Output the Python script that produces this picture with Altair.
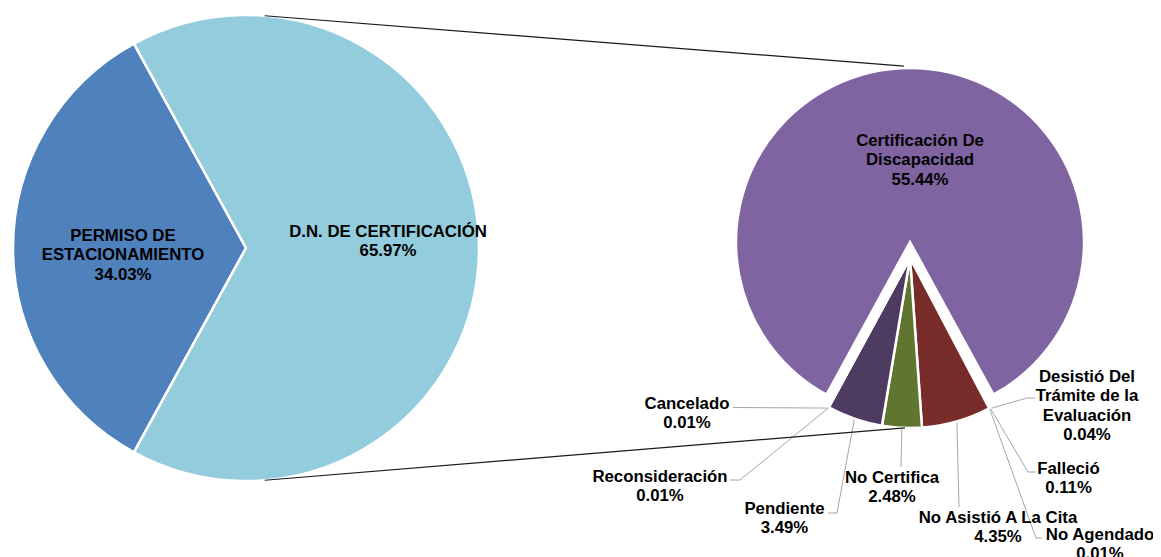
import math
import altair as alt
import pandas as pd

# ---------------- data ----------------
main_labels = ["PERMISO DE ESTACIONAMIENTO", "D.N. DE CERTIFICACIÓN"]
main_text = ["PERMISO DE\nESTACIONAMIENTO", "D.N. DE CERTIFICACIÓN"]
main_values = [34.03, 65.97]
main_colors = ["#4F81BD", "#93CDDD"]

sub_labels = ["Desistió Del Trámite de la Evaluación", "Falleció", "No Agendado",
              "No Asistió A La Cita", "No Certifica", "Pendiente",
              "Reconsideración", "Cancelado", "Certificación De Discapacidad"]
sub_text = ["Desistió Del\nTrámite de la\nEvaluación", "Falleció", "No Agendado",
            "No Asistió A La Cita", "No Certifica", "Pendiente",
            "Reconsideración", "Cancelado", "Certificación De\nDiscapacidad"]
sub_values = [0.04, 0.11, 0.01, 4.35, 2.48, 3.49, 0.01, 0.01, 55.44]
sub_colors = ["#C0504D", "#9BBB59", "#4BACC6", "#772C2A", "#5F7530",
              "#4D3B62", "#F79646", "#2C4D75", "#8064A2"]

# ---------------- layout (page pixels) ----------------
OFF = 8
L_CX, L_CY, L_R = 246, 248, 233          # left pie
P_CX, P_CY, P_R = 910, 242, 174          # big slice of right pie
S_CX, S_CY, S_R = 910, 258, 170          # exploded small slices
FS = 16.8
LH = 19.5

main_label_pos = [(123, 235), (388, 231)]
sub_label_pos = [(1087, 376), (1068.5, 468), (1100, 534), (998, 517), (892, 477),
                 (784.5, 508), (660, 476), (687, 403), (920, 140)]
leader_pts = [
    [(1027, 398), (1035, 398)],
    [(1028, 472), (1036, 472)],
    [(1036, 538), (1042, 538)],
    [(959, 507)],
    [(901, 467)],
    [(837, 513), (828, 513)],
    [(740, 480), (730, 480)],
    [(733, 407.5)],
    [],
]
CONN_LEFT_ANG = (4.6, 175.4)
CONN_RIGHT = ((P_CX, P_CY, P_R + 2, 358.0), (S_CX, S_CY, S_R, 181.7))


def pt(cx, cy, r, deg):
    a = math.radians(deg)
    return cx + r * math.sin(a), cy - r * math.cos(a)


# ---------------- arcs ----------------
arcs = []
tot = sum(main_values)
a = 270 - 0.5 * main_values[0] / tot * 360
for lab, v in zip(main_labels, main_values):
    d = v / tot * 360
    arcs.append(dict(name=lab, cx=L_CX - OFF, cy=L_CY - OFF, r=L_R,
                     t0=math.radians(a), t1=math.radians(a + d)))
    a += d

tot2 = sum(sub_values)
small_sum = sum(sub_values[:-1])
span = small_sum / tot2 * 360
a = 180 - span / 2
mids = []
for lab, v in zip(sub_labels[:-1], sub_values[:-1]):
    d = v / tot2 * 360
    arcs.append(dict(name=lab, cx=S_CX - OFF, cy=S_CY - OFF, r=S_R,
                     t0=math.radians(a), t1=math.radians(a + d)))
    mids.append(a + d / 2)
    a += d
arcs.append(dict(name=sub_labels[-1], cx=P_CX - OFF, cy=P_CY - OFF, r=P_R,
                 t0=math.radians(a), t1=math.radians(180 - span / 2 + 360)))
arc_df = pd.DataFrame(arcs)

# ---------------- labels ----------------
texts = []
for t, v, (x, y) in zip(main_text, main_values, main_label_pos):
    texts.append(dict(txt=f"{t}\n{v:.2f}%", x=x - OFF, y=y - OFF - 0.432 * FS))
for t, v, (x, y) in zip(sub_text, sub_values, sub_label_pos):
    texts.append(dict(txt=f"{t}\n{v:.2f}%", x=x - OFF, y=y - OFF - 0.432 * FS))
text_df = pd.DataFrame(texts)

# ---------------- leader lines ----------------
segs = []
for mid, pts in zip(mids, leader_pts[:-1]):
    chain = [pt(S_CX, S_CY, S_R + 1, mid)] + list(pts)
    for (x1, y1), (x2, y2) in zip(chain[:-1], chain[1:]):
        segs.append(dict(x=x1 - OFF, y=y1 - OFF, x2=x2 - OFF, y2=y2 - OFF))
lead_df = pd.DataFrame(segs)

conn = []
for la, (cx, cy, r, deg) in zip(CONN_LEFT_ANG, CONN_RIGHT):
    x1, y1 = pt(L_CX, L_CY, L_R, la)
    x2, y2 = pt(cx, cy, r, deg)
    conn.append(dict(x=x1 - OFF, y=y1 - OFF, x2=x2 - OFF, y2=y2 - OFF))
conn_df = pd.DataFrame(conn)

# ---------------- chart ----------------
color_scale = alt.Scale(domain=main_labels + sub_labels, range=main_colors + sub_colors)

arc_layer = alt.Chart(arc_df).mark_arc(stroke="white", strokeWidth=2.5).encode(
    x=alt.X("cx:Q", scale=None, axis=None),
    y=alt.Y("cy:Q", scale=None, axis=None),
    radius=alt.Radius("r:Q", scale=None),
    theta=alt.Theta("t0:Q", scale=None, stack=None),
    theta2="t1:Q",
    color=alt.Color("name:N", scale=color_scale, legend=None),
)

lead_layer = alt.Chart(lead_df).mark_rule(color="#A6A6A6", strokeWidth=1).encode(
    x=alt.X("x:Q", scale=None, axis=None),
    y=alt.Y("y:Q", scale=None, axis=None),
    x2="x2:Q", y2="y2:Q",
)

conn_layer = alt.Chart(conn_df).mark_rule(color="#1a1a1a", strokeWidth=1.2).encode(
    x=alt.X("x:Q", scale=None, axis=None),
    y=alt.Y("y:Q", scale=None, axis=None),
    x2="x2:Q", y2="y2:Q",
)

text_layer = alt.Chart(text_df).mark_text(
    font="Liberation Sans", fontSize=FS, fontWeight="bold", color="black",
    align="center", baseline="top", lineBreak="\n", lineHeight=LH,
).encode(
    x=alt.X("x:Q", scale=None, axis=None),
    y=alt.Y("y:Q", scale=None, axis=None),
    text="txt:N",
)

chart = alt.layer(arc_layer, lead_layer, conn_layer, text_layer).properties(
    width=1145, height=549, padding=0, autosize=alt.AutoSizeParams(type="none"),
).configure_view(stroke=None)

chart.save("out.html", embed_options={"renderer": "svg", "actions": False})
